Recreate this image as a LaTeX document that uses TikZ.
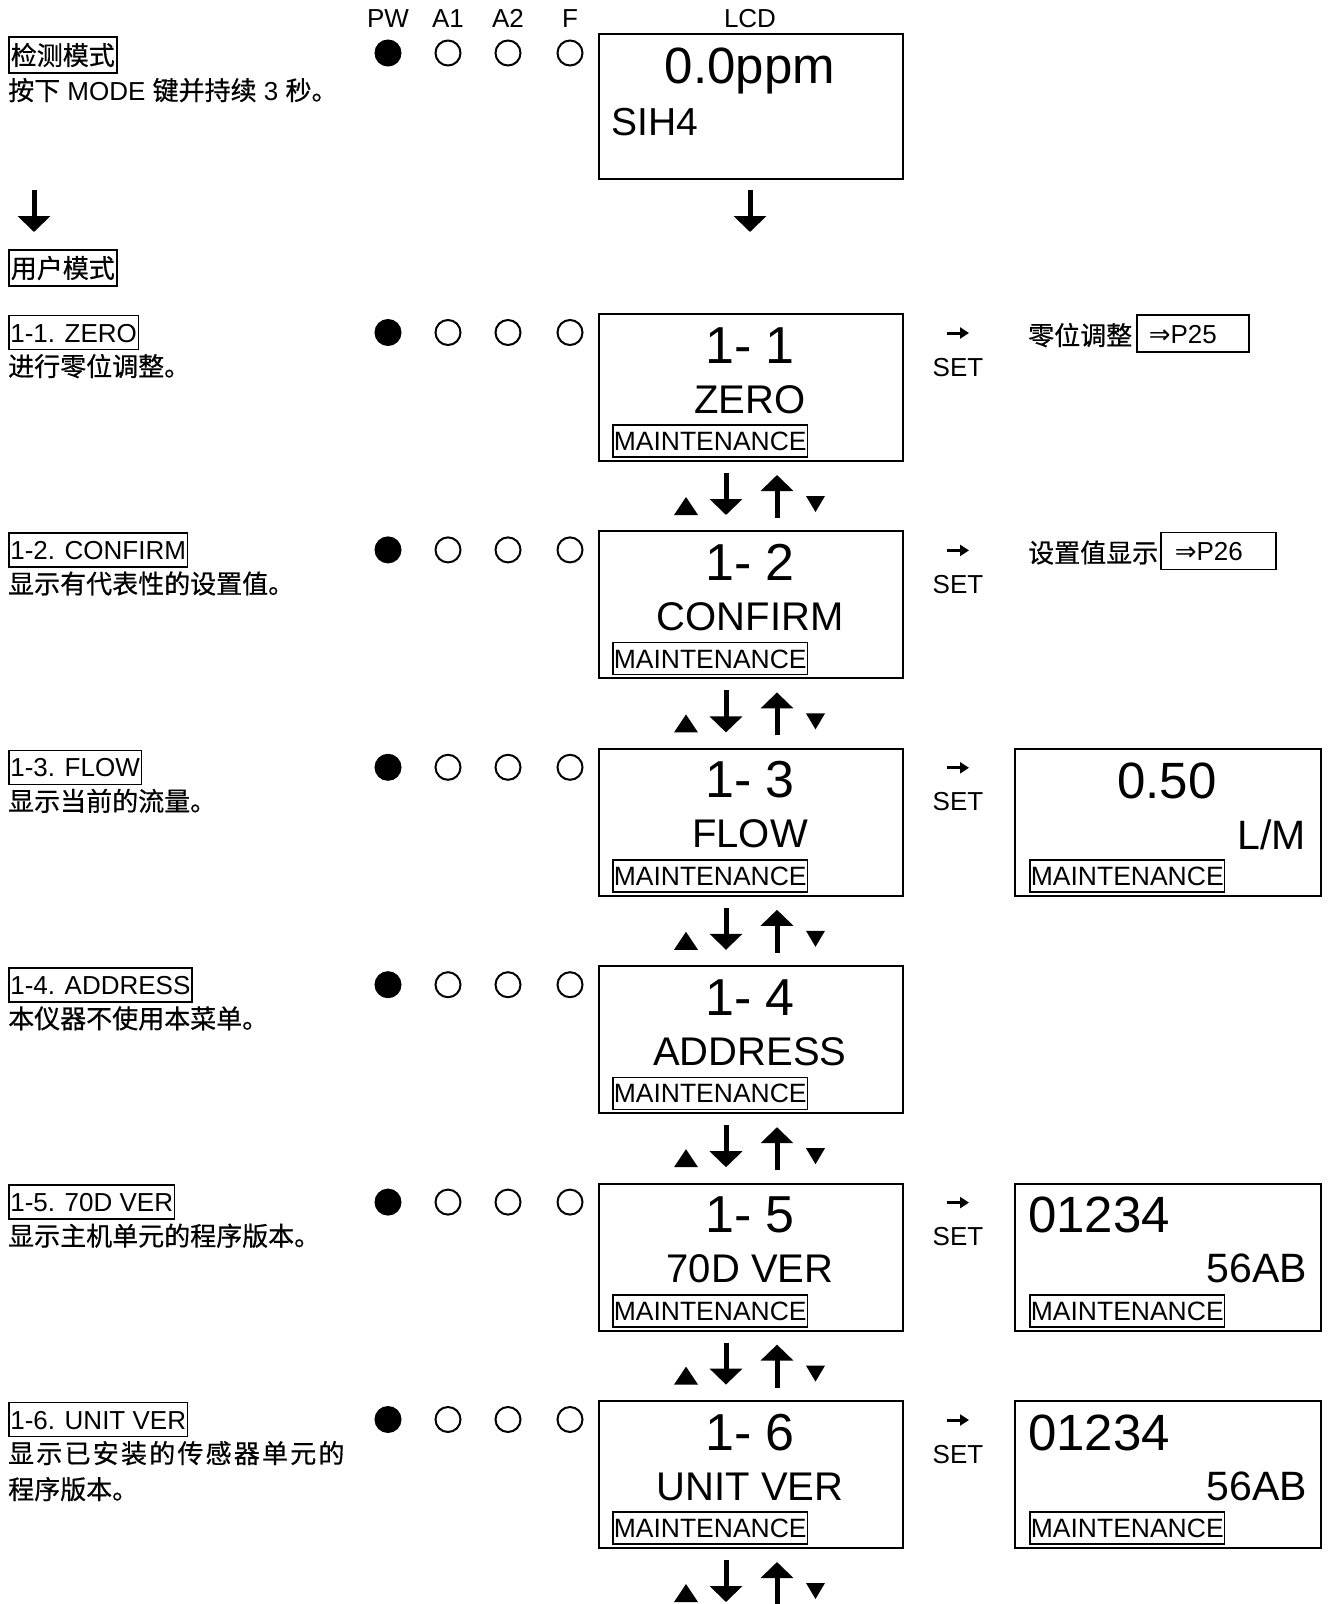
\documentclass[tikz,border=0pt]{standalone}
\usepackage{fontspec}
\setmainfont{Liberation Sans}
\newfontfamily\cjk[FakeBold=0.6]{Noto Sans CJK SC}
\newfontfamily\cjkw[FakeBold=0.6,LetterSpace=8.5]{Noto Sans CJK SC}
\newfontfamily\symf{DejaVu Sans}
\usetikzlibrary{arrows.meta}
\newcommand\myfs[1]{\fontsize{#1}{#1}\selectfont}
\begin{document}
\begin{tikzpicture}[x=1pt,y=-1pt,
  lcdbox/.style={draw, line width=2pt, minimum width=304pt, minimum height=147pt, anchor=north west, inner sep=0pt},
  led/.style={circle, draw, line width=2pt, minimum size=25pt, inner sep=0pt},
  ledon/.style={led, fill=black},
  tagbox/.style={draw, line width=1.6pt, inner xsep=1.5pt, inner ysep=0pt, minimum height=34pt, text height=19pt, text depth=0pt, anchor=west, font=\myfs{26}},
  cnbox/.style={draw, line width=1.6pt, inner xsep=2pt, inner ysep=0pt, minimum height=36pt, anchor=west, font=\cjk\myfs{26}},
  mbox/.style={draw, line width=1.6pt, inner xsep=1pt, inner ysep=0pt, minimum height=32pt, text height=19pt, text depth=0pt, anchor=south west, font=\myfs{26.5}},
  refbox/.style={draw, line width=1.6pt, inner ysep=0pt, minimum height=37pt, text height=19pt, text depth=0pt, anchor=west, align=left, font=\myfs{26}},
  big/.style={line width=5pt, -{Triangle[width=32pt,length=16pt]}},
  small/.style={line width=3pt, -{Triangle[width=11pt,length=9pt]}},
  txt/.style={inner sep=0pt, anchor=base},
  txtl/.style={inner sep=0pt, anchor=base west},
  txtr/.style={inner sep=0pt, anchor=base east}
]
\fill[white] (0,0) rectangle (1331,1604);
\useasboundingbox (0,0) rectangle (1331,1604);

% header
\foreach \x/\t/\n in {388/PW/hpw,448/A1/ha1,508/A2/ha2,570/F/hf}
  \node[txt, font=\myfs{26}] (\n) at (\x,27) {\t};
\node[txt, font=\myfs{26}] (hlcd) at (750,27) {LCD};
\node[ledon] (pw0) at (388,53) {};
\node[led] (aa0) at (448,53) {};
\node[led] (ab0) at (508,53) {};
\node[led] (af0) at (570,53) {};
\node[cnbox] (detect) at (8,55) {检测模式};
\node[txtl, font=\myfs{26}] (detectd) at (8,100) {{\cjk 按下} MODE {\cjk 键并持续} 3 {\cjk 秒。}};
\coordinate (la) at (34,190);
\coordinate (lb) at (34,232);
\draw[big] (la) -- (lb);
\node[cnbox] (user) at (8,268) {用户模式};
\node[lcdbox, minimum height=145pt] (lcd0) at (598,33) {};
\node[txt, font=\myfs{51}] (ppm) at (750,83) {0.0ppm};
\node[txtl, font=\myfs{39}] (gas) at (611,135) {SIH4};
\coordinate (ma) at (750,190);
\coordinate (mb) at (750,232);
\draw[big] (ma) -- (mb);

% rows
\foreach \i/\nm/\lab/\desc in {1/ZERO/1-1. ZERO/进行零位调整。,
  2/CONFIRM/1-2. CONFIRM/显示有代表性的设置值。,
  3/FLOW/1-3. FLOW/显示当前的流量。,
  4/ADDRESS/1-4. ADDRESS/本仪器不使用本菜单。,
  5/70D VER/1-5. 70D VER/显示主机单元的程序版本。,
  6/UNIT VER/1-6. UNIT VER/{\cjkw 显示已安装的传感器单元的}}{
  \pgfmathsetmacro\T{313+217.4*(\i-1)}
  \pgfmathsetmacro\B{\T+147}
  \node[lcdbox] (lcd\i) at (598,\T) {};
  \node[txt, font=\myfs{52}] (num\i) at (750,\T+50) {1- \i};
  \node[txt, font=\myfs{40}] (nm\i) at (750,\T+100) {\nm};
  \node[mbox] (mt\i) at (612,\T+145) {MAINTENANCE};
  \node[tagbox] (tag\i) at (8,\T+19.5) {\lab};
  \node[txtl, font=\cjk\myfs{26}] (desc\i) at (8,\T+63) {\desc};
  \node[ledon] (pw\i) at (388,\T+19.5) {};
  \node[led] (aa\i) at (448,\T+19.5) {};
  \node[led] (ab\i) at (508,\T+19.5) {};
  \node[led] (af\i) at (570,\T+19.5) {};
  % navigation symbols
  \fill (674,\B+55) -- (698,\B+55) -- (686,\B+37) -- cycle;
  \fill (806,\B+36) -- (825,\B+36) -- (815.5,\B+52) -- cycle;
  \coordinate (dn\i a) at (726,\B+13);
  \coordinate (dn\i b) at (726,\B+55);
  \coordinate (up\i a) at (777,\B+58);
  \coordinate (up\i b) at (777,\B+15);
  \draw[big] (dn\i a) -- (dn\i b);
  \draw[big] (up\i a) -- (up\i b);
}
\node[txtl, font=\cjk\myfs{26}] (desc6b) at (8,1499) {程序版本。};

% SET arrows
\foreach \i in {1,2,3,5,6}{
  \pgfmathsetmacro\T{313+217.4*(\i-1)}
  \coordinate (sa\i) at (947,\T+20);
  \coordinate (sb\i) at (969,\T+20);
  \draw[small] (sa\i) -- (sb\i);
  \node[txt, font=\myfs{26}] (set\i) at (958,\T+63) {SET};
}

% row 1, 2 references
\node[txtl, font=\cjk\myfs{26}] (z1) at (1028,345) {零位调整};
\node[refbox, text width=88pt, inner xsep=12pt] (p25) at (1136,333.5) {{\symf ⇒}P25};
\node[txtl, font=\cjk\myfs{26}] (z2) at (1028,562.4) {设置值显示};
\node[refbox, text width=87pt, inner xsep=14pt] (p26) at (1160,551) {{\symf ⇒}P26};

% result boxes
\node[lcdbox, minimum width=306pt] (res3) at (1014,747.8) {};
\node[txt, font=\myfs{51}] (flowv) at (1167,798.8) {0.50};
\node[txtr, font=\myfs{41}] (flowu) at (1306,849.8) {L/M};
\node[mbox] (rm3) at (1029,892.8) {MAINTENANCE};
\foreach \i in {5,6}{
  \pgfmathsetmacro\T{313+217.4*(\i-1)}
  \node[lcdbox, minimum width=306pt] (res\i) at (1014,\T) {};
  \node[txtl, font=\myfs{51}] (va\i) at (1028,\T+50) {01234};
  \node[txtr, font=\myfs{41}] (vb\i) at (1307,\T+100) {56AB};
  \node[mbox] (rm\i) at (1029,\T+145) {MAINTENANCE};
}
\end{tikzpicture}
\end{document}
